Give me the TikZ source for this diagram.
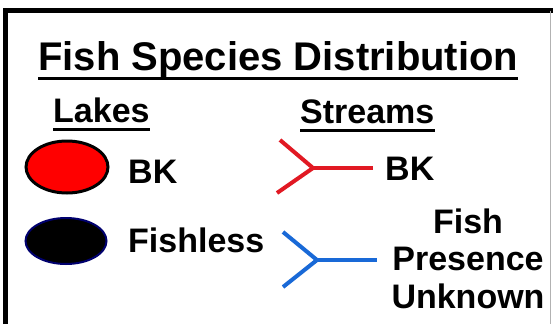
\documentclass[tikz,border=0pt]{standalone}
\usepackage{fontspec}
\setmainfont{Liberation Sans}
\usetikzlibrary{shapes.geometric}
\definecolor{streamred}{RGB}{225,25,35}
\definecolor{streamblue}{RGB}{25,105,215}
\definecolor{lakered}{RGB}{255,0,0}
\definecolor{navy}{RGB}{0,0,110}
\begin{document}
\begin{tikzpicture}[x=1pt,y=1pt,
  lbl/.style={font=\fontsize{34}{37.5}\selectfont\bfseries, inner sep=0pt},
  ttl/.style={font=\fontsize{40}{44}\selectfont\bfseries, inner sep=0pt},
  uline/.style={line width=3pt},
  lake/.style={ellipse, inner sep=0pt, minimum width=82pt, minimum height=52pt},
  stream/.style={line width=4pt}]
\useasboundingbox (0,0) rectangle (553,-324);
\fill[white] (0,0) rectangle (553,-324);
% frame
\coordinate (fbl) at (5.5,-324);
\coordinate (ftl) at (5.5,-10.5);
\coordinate (ftr) at (553,-10.5);
\coordinate (frt) at (550,-10.5);
\coordinate (frb) at (550,-324);
\draw[line width=5pt] (fbl) -- (ftl) -- (ftr);
\draw[black!30, line width=1pt] (frt) -- (frb);
% title
\node[ttl, anchor=base west] (title) at (38,-70) {Fish Species Distribution};
\draw[uline] ([yshift=-8pt]title.base west) -- ([yshift=-8pt]title.base east);
% headers
\node[lbl, anchor=base west] (lakes) at (53,-122) {Lakes};
\draw[uline] ([yshift=-7pt]lakes.base west) -- ([yshift=-7pt]lakes.base east);
\node[lbl, anchor=base west] (streams) at (300,-123) {Streams};
\draw[uline] ([yshift=-7pt]streams.base west) -- ([yshift=-7pt]streams.base east);
% lakes
\node[lake, draw=black, line width=3pt, fill=lakered] (redlake) at (67,-167) {};
\node[lbl, anchor=base west] (bkl) at (128,-183) {BK};
\node[lake, draw=navy, line width=2pt, fill=black, minimum width=81pt, minimum height=46pt] (blacklake) at (66,-241) {};
\node[lbl, anchor=base west] (fishless) at (128,-252) {Fishless};
% streams
\coordinate (ru) at (280,-140);
\coordinate (rj) at (313,-168);
\coordinate (rl) at (277,-193);
\coordinate (re) at (373,-168);
\draw[stream, streamred] (ru) -- (rj) -- (rl);
\draw[stream, streamred] (rj) -- (re);
\node[lbl, anchor=base west] (bkr) at (385,-180) {BK};
\coordinate (bu) at (283,-232);
\coordinate (bj) at (317,-260);
\coordinate (bl) at (283,-287);
\coordinate (be) at (377,-260);
\draw[stream, streamblue] (bu) -- (bj) -- (bl);
\draw[stream, streamblue] (bj) -- (be);
\node[lbl, anchor=base, align=center] (unk) at (468,-308) {Fish\\Presence\\Unknown};
\end{tikzpicture}
\end{document}
